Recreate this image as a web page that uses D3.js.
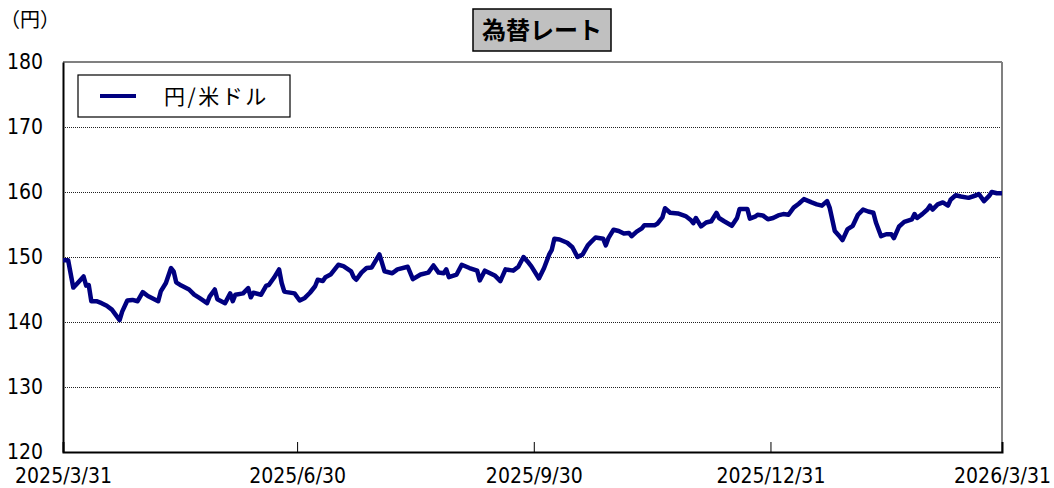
<!DOCTYPE html>
<html>
<head>
<meta charset="utf-8">
<script src="https://cdn.jsdelivr.net/npm/d3@7"></script>
<style>
  body { margin: 0; background: #fff; }
  .lbl { font-family: "DejaVu Sans Condensed", "Liberation Sans Narrow", sans-serif; font-stretch: condensed; }
  .jp { font-family: "Noto Sans CJK JP", sans-serif; }
</style>
</head>
<body>
<div id="chart"></div>
<script>
// data
var dates = [
  '2025-03-31','2025-04-02','2025-04-04','2025-04-05','2025-04-08','2025-04-09','2025-04-10','2025-04-11',
  '2025-04-13','2025-04-15','2025-04-17','2025-04-19','2025-04-22','2025-04-23','2025-04-25','2025-04-27',
  '2025-04-29','2025-05-01','2025-05-03','2025-05-07','2025-05-08','2025-05-10','2025-05-12','2025-05-13',
  '2025-05-14','2025-05-16','2025-05-19','2025-05-21','2025-05-23','2025-05-26','2025-05-27','2025-05-29',
  '2025-05-30','2025-06-02','2025-06-04','2025-06-05','2025-06-06','2025-06-09','2025-06-11','2025-06-12',
  '2025-06-13','2025-06-16','2025-06-18','2025-06-19','2025-06-21','2025-06-23','2025-06-24','2025-06-25',
  '2025-06-26','2025-06-29','2025-07-01','2025-07-03','2025-07-05','2025-07-07','2025-07-08','2025-07-10',
  '2025-07-11','2025-07-13','2025-07-16','2025-07-18','2025-07-21','2025-07-22','2025-07-23','2025-07-25',
  '2025-07-27','2025-07-29','2025-08-01','2025-08-03','2025-08-06','2025-08-08','2025-08-12','2025-08-14',
  '2025-08-17','2025-08-20','2025-08-22','2025-08-24','2025-08-26','2025-08-27','2025-08-28','2025-08-31',
  '2025-09-02','2025-09-05','2025-09-08','2025-09-09','2025-09-11','2025-09-13','2025-09-15','2025-09-17',
  '2025-09-19','2025-09-22','2025-09-24','2025-09-26','2025-09-28','2025-09-29','2025-10-02','2025-10-04',
  '2025-10-06','2025-10-07','2025-10-08','2025-10-10','2025-10-13','2025-10-15','2025-10-17','2025-10-19',
  '2025-10-21','2025-10-22','2025-10-24','2025-10-27','2025-10-28','2025-10-29','2025-10-31','2025-11-02',
  '2025-11-04','2025-11-06','2025-11-07','2025-11-09','2025-11-11','2025-11-12','2025-11-16','2025-11-17',
  '2025-11-19','2025-11-20','2025-11-22','2025-11-25','2025-11-28','2025-11-30','2025-12-01','2025-12-02',
  '2025-12-04','2025-12-06','2025-12-08','2025-12-10','2025-12-11','2025-12-13','2025-12-16','2025-12-18',
  '2025-12-19','2025-12-22','2025-12-23','2025-12-25','2025-12-26','2025-12-28','2025-12-30','2026-01-01',
  '2026-01-03','2026-01-05','2026-01-07','2026-01-09','2026-01-11','2026-01-13','2026-01-16','2026-01-18',
  '2026-01-20','2026-01-22','2026-01-23','2026-01-25','2026-01-27','2026-01-28','2026-01-30','2026-02-01',
  '2026-02-03','2026-02-05','2026-02-07','2026-02-09','2026-02-10','2026-02-12','2026-02-14','2026-02-16',
  '2026-02-17','2026-02-19','2026-02-21','2026-02-24','2026-02-25','2026-02-26','2026-02-28','2026-03-02',
  '2026-03-03','2026-03-04','2026-03-06','2026-03-08','2026-03-10','2026-03-11','2026-03-13','2026-03-15',
  '2026-03-18','2026-03-21','2026-03-22','2026-03-24','2026-03-26','2026-03-27','2026-03-29','2026-03-31'
];
var usdjpy = [
  149.5,149.5,145.3,145.7,147.0,145.6,145.7,143.2,
  143.2,142.9,142.5,141.9,140.3,141.6,143.3,143.4,
  143.2,144.6,144.0,143.2,144.7,146.0,148.3,147.8,
  146.1,145.6,145.0,144.2,143.7,142.9,143.9,145.0,
  143.5,142.9,144.4,143.2,144.2,144.4,145.2,143.8,
  144.5,144.2,145.6,145.7,146.8,148.1,146.0,144.7,
  144.6,144.4,143.3,143.7,144.5,145.5,146.5,146.3,
  146.9,147.3,148.8,148.6,147.8,146.9,146.5,147.6,
  148.3,148.4,150.4,147.8,147.5,148.1,148.5,146.6,
  147.3,147.6,148.7,147.6,147.5,148.1,146.9,147.3,
  148.8,148.3,147.9,146.4,147.9,147.5,147.1,146.3,
  148.1,147.9,148.5,150.0,149.1,148.6,146.7,148.3,
  150.4,151.1,152.8,152.7,152.2,151.5,150.0,150.4,
  151.8,152.2,153.0,152.8,151.8,152.9,154.2,154.0,
  153.6,153.7,153.2,153.9,154.4,154.9,154.9,155.1,
  156.1,157.5,156.8,156.7,156.3,155.7,155.2,156.0,
  154.7,155.3,155.5,156.8,156.0,155.5,154.8,156.0,
  157.4,157.4,155.9,156.2,156.5,156.4,155.8,156.0,
  156.4,156.6,156.5,157.6,158.2,158.9,158.4,158.1,
  157.9,158.6,157.6,154.0,153.1,152.6,154.3,154.8,
  156.5,157.3,157.0,156.8,155.3,153.2,153.5,153.5,
  152.9,154.7,155.4,155.8,156.6,156.0,156.6,157.3,
  157.9,157.3,158.1,158.4,157.9,158.8,159.5,159.3,
  159.1,159.5,159.7,158.6,159.4,160.0,159.8,159.8
];
var yTicks = [120, 130, 140, 150, 160, 170, 180];
var xTicks = ['2025-03-31', '2025-06-30', '2025-09-30', '2025-12-31', '2026-03-31'];
var seriesName = '円/米ドル';
var chartTitle = '為替レート';
var yUnit = '（円）';

var svgWidth = 1054;
var svgHeight = 488;
var margin = { top: 62, right: 52, bottom: 36, left: 63 };
var width = svgWidth - margin.left - margin.right;
var height = svgHeight - margin.top - margin.bottom;

var parse = d3.timeParse('%Y-%m-%d');
var fmt = d3.timeFormat('%Y/%-m/%-d');
var data = dates.map(function(d, i) { return { date: parse(d), value: usdjpy[i] }; });

var svg = d3.select('#chart')
  .append('svg')
  .attr('width', svgWidth)
  .attr('height', svgHeight);

var chartGroup = svg.append('g')
  .attr('transform', `translate(${margin.left}, ${margin.top})`);

var x = d3.scaleTime()
  .domain([parse(xTicks[0]), parse(xTicks[xTicks.length - 1])])
  .range([0, width]);

var y = d3.scaleLinear()
  .domain([120, 180])
  .range([height, 0]);

// grid lines
chartGroup.append('g')
  .selectAll('line')
  .data(yTicks.slice(1, -1))
  .enter()
  .append('line')
  .attr('x1', 0)
  .attr('x2', width)
  .attr('y1', d => y(d) + 0.5)
  .attr('y2', d => y(d) + 0.5)
  .attr('stroke', '#222')
  .attr('stroke-width', 1)
  .attr('stroke-dasharray', '1,1');

// frame: top and right grey
chartGroup.append('line')
  .attr('x1', 0).attr('x2', width)
  .attr('y1', 0).attr('y2', 0)
  .attr('stroke', '#808080').attr('stroke-width', 2);
chartGroup.append('line')
  .attr('x1', width).attr('x2', width)
  .attr('y1', 0).attr('y2', height)
  .attr('stroke', '#808080').attr('stroke-width', 2);

// axes
var bottomAxis = d3.axisBottom(x)
  .tickValues(xTicks.map(parse))
  .tickSize(-10)
  .tickFormat(fmt);
var leftAxis = d3.axisLeft(y)
  .tickValues(yTicks)
  .tickSize(0);

var xAxisG = chartGroup.append('g')
  .attr('transform', `translate(0, ${height})`)
  .call(bottomAxis);
xAxisG.select('.domain').attr('stroke', '#000').attr('stroke-width', 2);
xAxisG.selectAll('.tick line').attr('stroke', '#000');
xAxisG.selectAll('.tick text')
  .attr('class', 'lbl')
  .attr('y', 31)
  .attr('dy', 0)
  .style('font-size', '21px')
  .attr('fill', '#000');

var yAxisG = chartGroup.append('g')
  .call(leftAxis);
yAxisG.select('.domain').attr('stroke', '#000').attr('stroke-width', 2);
yAxisG.selectAll('.tick text')
  .attr('class', 'lbl')
  .attr('text-anchor', 'start')
  .attr('x', -56)
  .attr('dy', '0.32em')
  .style('font-size', '21px')
  .attr('fill', '#000');

// series line
var line = d3.line()
  .x(d => x(d.date))
  .y(d => y(d.value));

chartGroup.append('path')
  .datum(data)
  .attr('fill', 'none')
  .attr('stroke', '#000080')
  .attr('stroke-width', 4.5)
  .attr('stroke-linejoin', 'round')
  .attr('d', line);

// legend
var legend = chartGroup.append('g')
  .attr('transform', 'translate(15, 13)');
legend.append('rect')
  .attr('width', 212)
  .attr('height', 42)
  .attr('fill', '#fff')
  .attr('stroke', '#000')
  .attr('stroke-width', 1.2);
legend.append('line')
  .attr('x1', 22).attr('x2', 58)
  .attr('y1', 21).attr('y2', 21)
  .attr('stroke', '#000080')
  .attr('stroke-width', 4);
legend.append('text')
  .attr('class', 'jp')
  .attr('x', 86)
  .attr('y', 29)
  .style('font-size', '21px')
  .style('letter-spacing', '2.5px')
  .text(seriesName);

// title box
var title = svg.append('g')
  .attr('transform', 'translate(473, 9)');
title.append('rect')
  .attr('width', 138)
  .attr('height', 42)
  .attr('fill', '#c0c0c0')
  .attr('stroke', '#000')
  .attr('stroke-width', 1.5);
title.append('text')
  .attr('class', 'jp')
  .attr('x', 69)
  .attr('y', 30)
  .attr('text-anchor', 'middle')
  .style('font-size', '24px')
  .style('font-weight', 'bold')
  .text(chartTitle);

// unit label
svg.append('text')
  .attr('class', 'jp')
  .attr('x', 0)
  .attr('y', 27)
  .style('font-size', '20px')
  .text(yUnit);
</script>
</body>
</html>
